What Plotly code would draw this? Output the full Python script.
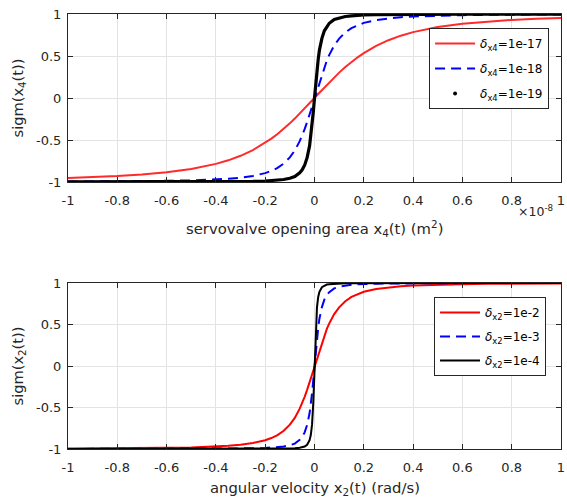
import plotly.graph_objects as go

# x4 in units of 1e-8 m^2, x2 in rad/s
X4 = [-1.0, -0.9, -0.8, -0.7, -0.6, -0.5, -0.4, -0.35, -0.3, -0.25, -0.2, -0.175, -0.15, -0.125,
      -0.1, -0.08, -0.06, -0.05, -0.04, -0.03, -0.02, -0.015, -0.01, -0.005, 0,
      0.005, 0.01, 0.015, 0.02, 0.03, 0.04, 0.05, 0.06, 0.08, 0.1, 0.125, 0.15, 0.175, 0.2,
      0.25, 0.3, 0.35, 0.4, 0.5, 0.6, 0.7, 0.8, 0.9, 1.0]
X2 = [-1.0, -0.9, -0.8, -0.7, -0.6, -0.5, -0.4, -0.35, -0.3, -0.25, -0.2, -0.175, -0.15, -0.125,
      -0.1, -0.08, -0.06, -0.05, -0.04, -0.03, -0.02, -0.015, -0.01, -0.005, 0,
      0.005, 0.01, 0.015, 0.02, 0.03, 0.04, 0.05, 0.06, 0.08, 0.1, 0.125, 0.15, 0.175, 0.2,
      0.25, 0.3, 0.35, 0.4, 0.5, 0.6, 0.7, 0.8, 0.9, 1.0]

sig4_d17 = [-0.953, -0.943, -0.930, -0.911, -0.885, -0.845, -0.784, -0.742, -0.688, -0.620, -0.535, -0.484,
            -0.429, -0.368, -0.302, -0.245, -0.186, -0.156, -0.125, -0.094, -0.063, -0.047, -0.032, -0.016, 0,
            0.016, 0.032, 0.047, 0.063, 0.094, 0.125, 0.156, 0.186, 0.245, 0.302, 0.368, 0.429, 0.484, 0.535,
            0.620, 0.688, 0.742, 0.784, 0.845, 0.885, 0.911, 0.930, 0.943, 0.953]
sig4_d18 = [-0.995, -0.994, -0.992, -0.990, -0.986, -0.981, -0.970, -0.962, -0.949, -0.928, -0.894, -0.868,
            -0.832, -0.781, -0.707, -0.625, -0.514, -0.447, -0.371, -0.287, -0.196, -0.148, -0.100, -0.050, 0,
            0.050, 0.100, 0.148, 0.196, 0.287, 0.371, 0.447, 0.514, 0.625, 0.707, 0.781, 0.832, 0.868, 0.894,
            0.928, 0.949, 0.962, 0.970, 0.981, 0.986, 0.990, 0.992, 0.994, 0.995]
sig4_d19 = [-0.9995, -0.9994, -0.9992, -0.999, -0.9986, -0.998, -0.997, -0.996, -0.994, -0.992, -0.988, -0.984,
            -0.978, -0.970, -0.955, -0.935, -0.890, -0.855, -0.800, -0.710, -0.570, -0.460, -0.330, -0.170, 0,
            0.170, 0.330, 0.460, 0.570, 0.710, 0.800, 0.855, 0.890, 0.935, 0.955, 0.970, 0.978, 0.984, 0.988,
            0.992, 0.994, 0.996, 0.997, 0.998, 0.9986, 0.999, 0.9992, 0.9994, 0.9995]

sig2_d2 = [-0.995, -0.994, -0.992, -0.990, -0.986, -0.981, -0.970, -0.962, -0.949, -0.928, -0.894, -0.868,
           -0.832, -0.781, -0.707, -0.625, -0.514, -0.447, -0.371, -0.287, -0.196, -0.148, -0.100, -0.050, 0,
           0.050, 0.100, 0.148, 0.196, 0.287, 0.371, 0.447, 0.514, 0.625, 0.707, 0.781, 0.832, 0.868, 0.894,
           0.928, 0.949, 0.962, 0.970, 0.981, 0.986, 0.990, 0.992, 0.994, 0.995]
sig2_d3 = [-0.9995, -0.9994, -0.9992, -0.999, -0.9986, -0.998, -0.997, -0.996, -0.994, -0.992, -0.988, -0.984,
           -0.978, -0.970, -0.955, -0.935, -0.890, -0.855, -0.800, -0.710, -0.570, -0.460, -0.330, -0.170, 0,
           0.170, 0.330, 0.460, 0.570, 0.710, 0.800, 0.855, 0.890, 0.935, 0.955, 0.970, 0.978, 0.984, 0.988,
           0.992, 0.994, 0.996, 0.997, 0.998, 0.9986, 0.999, 0.9992, 0.9994, 0.9995]
sig2_d4 = [-1.0, -1.0, -0.9999, -0.9999, -0.9999, -0.9998, -0.9997, -0.9996, -0.9994, -0.9992, -0.9988, -0.9984,
           -0.9978, -0.9968, -0.995, -0.992, -0.986, -0.981, -0.970, -0.949, -0.894, -0.832, -0.707, -0.447, 0,
           0.447, 0.707, 0.832, 0.894, 0.949, 0.970, 0.981, 0.986, 0.992, 0.995, 0.9968, 0.9978, 0.9984, 0.9988,
           0.9992, 0.9994, 0.9996, 0.9997, 0.9998, 0.9999, 0.9999, 0.9999, 1.0, 1.0]

X_TICKS = [-1, -0.8, -0.6, -0.4, -0.2, 0, 0.2, 0.4, 0.6, 0.8, 1]
X_TICKTEXT = ["-1", "-0.8", "-0.6", "-0.4", "-0.2", "0", "0.2", "0.4", "0.6", "0.8", "1"]
Y_TICKS = [-1, -0.5, 0, 0.5, 1]
Y_TICKTEXT = ["-1", "-0.5", "0", "0.5", "1"]

LEG4 = ["<i>δ</i><sub>x4</sub>=1e-17", "<i>δ</i><sub>x4</sub>=1e-18", "<i>δ</i><sub>x4</sub>=1e-19"]
LEG2 = ["<i>δ</i><sub>x2</sub>=1e-2", "<i>δ</i><sub>x2</sub>=1e-3", "<i>δ</i><sub>x2</sub>=1e-4"]

FONT = "DejaVu Sans, sans-serif"
AX = "#262626"
GRID = "#e3e3e3"

W, H = 567, 501
L, R, T, B = 68, 2, 14, 52
PH = H - T - B
PW = W - L - R


def py(pix):
    return (H - B - pix) / PH


def px(pix):
    return (pix - L) / PW


fig = go.Figure()

# top panel
fig.add_trace(go.Scatter(x=X4, y=sig4_d17, mode="lines", line=dict(color="#ff2a2a", width=2),
                         name=LEG4[0], legend="legend", legendgroup="a1", xaxis="x", yaxis="y"))
fig.add_trace(go.Scatter(x=X4, y=sig4_d18, mode="lines", line=dict(color="#0000ff", width=2, dash="10px,6px"),
                         name=LEG4[1], legend="legend", legendgroup="a2", xaxis="x", yaxis="y"))
fig.add_trace(go.Scatter(x=X4, y=sig4_d19, mode="lines", line=dict(color="#000000", width=3.2),
                         name=LEG4[2], showlegend=False, legendgroup="a3", xaxis="x", yaxis="y"))
fig.add_trace(go.Scatter(x=[None], y=[None], mode="markers", marker=dict(color="#000000", size=4),
                         name=LEG4[2], legend="legend", legendgroup="a3", xaxis="x", yaxis="y"))

# bottom panel
fig.add_trace(go.Scatter(x=X2, y=sig2_d2, mode="lines", line=dict(color="#ff0000", width=2),
                         name=LEG2[0], legend="legend2", legendgroup="b1", xaxis="x2", yaxis="y2"))
fig.add_trace(go.Scatter(x=X2, y=sig2_d3, mode="lines", line=dict(color="#0000ff", width=2, dash="10px,6px"),
                         name=LEG2[1], legend="legend2", legendgroup="b2", xaxis="x2", yaxis="y2"))
fig.add_trace(go.Scatter(x=X2, y=sig2_d4, mode="lines", line=dict(color="#000000", width=2),
                         name=LEG2[2], legend="legend2", legendgroup="b3", xaxis="x2", yaxis="y2"))

axis_common = dict(showline=True, linecolor=AX, linewidth=1, mirror="ticks", ticks="inside", ticklen=5,
                   tickcolor=AX, tickwidth=1, showgrid=True, gridcolor=GRID, gridwidth=1, zeroline=False,
                   ticklabeloverflow="allow",
                   tickfont=dict(family=FONT, size=13, color=AX))

fig.update_layout(
    width=W, height=H,
    margin=dict(l=L, r=R, t=T, b=B),
    paper_bgcolor="white", plot_bgcolor="white",
    font=dict(family=FONT, size=13, color=AX),
    xaxis=dict(domain=[0, 1], range=[-1, 1], tickvals=X_TICKS, ticktext=X_TICKTEXT, anchor="y",
               ticklabelstandoff=6, **axis_common),
    yaxis=dict(domain=[py(182), 1], range=[-1, 1], tickvals=Y_TICKS, ticktext=Y_TICKTEXT, anchor="x",
               ticklabelstandoff=3, **axis_common),
    xaxis2=dict(domain=[0, 1], range=[-1, 1], tickvals=X_TICKS, ticktext=X_TICKTEXT, anchor="y2",
                ticklabelstandoff=6, **axis_common),
    yaxis2=dict(domain=[0, py(283)], range=[-1, 1], tickvals=Y_TICKS, ticktext=Y_TICKTEXT, anchor="x2",
                ticklabelstandoff=3, **axis_common),
    legend=dict(x=px(432), y=py(28), xanchor="left", yanchor="top", bgcolor="white",
                bordercolor=AX, borderwidth=1, font=dict(family=FONT, size=12, color="#000000"),
                tracegroupgap=6, itemwidth=40),
    legend2=dict(x=px(437), y=py(297), xanchor="left", yanchor="top", bgcolor="white",
                 bordercolor=AX, borderwidth=1, font=dict(family=FONT, size=12, color="#000000"),
                 tracegroupgap=5, itemwidth=40),
    showlegend=True,
    annotations=[
        dict(text="servovalve opening area x<sub>4</sub>(t) (m<sup>2</sup>)", x=0.5, y=py(228),
             xref="paper", yref="paper", showarrow=False, xanchor="center", yanchor="middle",
             font=dict(family=FONT, size=14.8, color=AX)),
        dict(text="angular velocity x<sub>2</sub>(t) (rad/s)", x=0.5, y=py(489),
             xref="paper", yref="paper", showarrow=False, xanchor="center", yanchor="middle",
             font=dict(family=FONT, size=14.8, color=AX)),
        dict(text="sigm(x<sub>4</sub>(t))", x=px(18), y=py(98), textangle=-90,
             xref="paper", yref="paper", showarrow=False, xanchor="center", yanchor="middle",
             font=dict(family=FONT, size=14.6, color=AX)),
        dict(text="sigm(x<sub>2</sub>(t))", x=px(18), y=py(366), textangle=-90,
             xref="paper", yref="paper", showarrow=False, xanchor="center", yanchor="middle",
             font=dict(family=FONT, size=14.6, color=AX)),
        dict(text="×10<sup>-8</sup>", x=px(559), y=py(211),
             xref="paper", yref="paper", showarrow=False, xanchor="right", yanchor="middle",
             font=dict(family=FONT, size=12.5, color=AX)),
    ],
)

fig.write_html("out.html", config={"displayModeBar": False},
               post_script="document.body.style.margin='0';document.body.style.overflow='hidden';")
